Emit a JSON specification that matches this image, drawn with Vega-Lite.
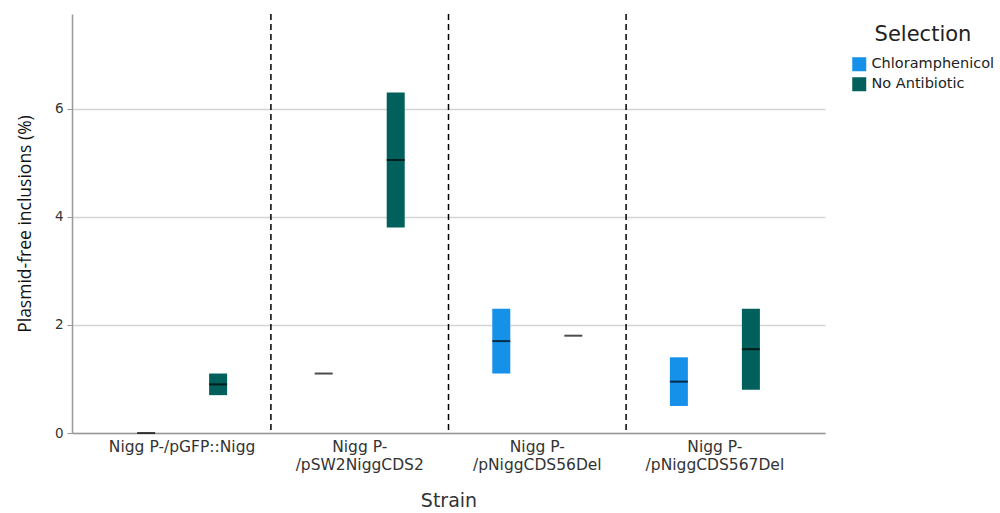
{
  "$schema": "https://vega.github.io/schema/vega-lite/v6.json",
  "width": 753,
  "height": 419,
  "autosize": {"type": "none"},
  "padding": {"left": 72, "top": 14, "right": 175, "bottom": 80},
  "background": "white",
  "config": {"view": {"stroke": null}, "font": "DejaVu Sans"},
  "data": {
    "values": [
      {"strain": "Nigg P-/pGFP::Nigg", "selection": "Chloramphenicol", "min": 0, "max": 0, "median": 0},
      {"strain": "Nigg P-/pGFP::Nigg", "selection": "No Antibiotic", "min": 0.7, "max": 1.1, "median": 0.9},
      {"strain": "Nigg P-/pSW2NiggCDS2", "selection": "Chloramphenicol", "min": 1.1, "max": 1.1, "median": 1.1},
      {"strain": "Nigg P-/pSW2NiggCDS2", "selection": "No Antibiotic", "min": 3.8, "max": 6.3, "median": 5.05},
      {"strain": "Nigg P-/pNiggCDS56Del", "selection": "Chloramphenicol", "min": 1.1, "max": 2.3, "median": 1.7},
      {"strain": "Nigg P-/pNiggCDS56Del", "selection": "No Antibiotic", "min": 1.8, "max": 1.8, "median": 1.8},
      {"strain": "Nigg P-/pNiggCDS567Del", "selection": "Chloramphenicol", "min": 0.5, "max": 1.4, "median": 0.95},
      {"strain": "Nigg P-/pNiggCDS567Del", "selection": "No Antibiotic", "min": 0.8, "max": 2.3, "median": 1.55}
    ]
  },
  "encoding": {
    "x": {
      "field": "strain",
      "type": "nominal",
      "sort": ["Nigg P-/pGFP::Nigg", "Nigg P-/pSW2NiggCDS2", "Nigg P-/pNiggCDS56Del", "Nigg P-/pNiggCDS567Del"],
      "scale": {"paddingInner": 0, "paddingOuter": 0.12},
      "title": "Strain",
      "axis": {
        "labelAngle": 0,
        "ticks": false,
        "domainColor": "#999999",
        "domainWidth": 1.5,
        "labelFont": "DejaVu Sans",
        "labelFontSize": 15.5,
        "labelColor": "#333333",
        "labelPadding": 6,
        "labelLineHeight": 18,
        "labelExpr": "datum.value == 'Nigg P-/pGFP::Nigg' ? datum.value : ['Nigg P-', substring(datum.value, 7)]",
        "titleFont": "DejaVu Sans",
        "titleFontSize": 19,
        "titleFontWeight": "normal",
        "titleColor": "#333333",
        "titlePadding": 19
      }
    }
  },
  "layer": [
    {
      "mark": {"type": "bar"},
      "encoding": {
        "xOffset": {
          "field": "selection",
          "type": "nominal",
          "scale": {"paddingInner": 0.75, "paddingOuter": 0.608}
        },
        "y": {
          "field": "min",
          "type": "quantitative",
          "scale": {"domain": [0, 7.75], "nice": false},
          "title": "Plasmid-free inclusions (%)",
          "axis": {
            "values": [0, 2, 4, 6],
            "format": "d",
            "grid": true,
            "gridColor": "#d4d4d4",
            "gridWidth": 1.5,
            "domainColor": "#999999",
            "domainWidth": 1.5,
            "tickColor": "#999999",
            "tickSize": 5,
            "labelFont": "DejaVu Sans",
            "labelFontSize": 13.5,
            "labelColor": "#333333",
            "labelPadding": 4,
            "titleFont": "Open Sans",
            "titleFontSize": 17.5,
            "titleFontWeight": "normal",
            "titleColor": "#111111",
            "titlePadding": 20
          }
        },
        "y2": {"field": "max"},
        "color": {
          "field": "selection",
          "type": "nominal",
          "scale": {"domain": ["Chloramphenicol", "No Antibiotic"], "range": ["#1591EA", "#01605C"]},
          "legend": {
            "orient": "none",
            "legendX": 780,
            "legendY": 10,
            "title": "Selection",
            "titleFont": "DejaVu Sans",
            "titleFontSize": 21,
            "titleFontWeight": "normal",
            "titleColor": "#222222",
            "titleAnchor": "middle",
            "titlePadding": 12,
            "labelFont": "DejaVu Sans",
            "labelFontSize": 14.5,
            "labelColor": "#222222",
            "labelOffset": 5,
            "symbolType": "square",
            "symbolSize": 196,
            "symbolStrokeWidth": 0,
            "rowPadding": 4
          }
        }
      }
    },
    {
      "mark": {"type": "tick", "color": "#000000", "thickness": 2, "size": 18},
      "encoding": {
        "xOffset": {"field": "selection", "type": "nominal"},
        "y": {"field": "median", "type": "quantitative"}
      }
    },
    {
      "data": {
        "values": [
          {"strain": "Nigg P-/pSW2NiggCDS2"},
          {"strain": "Nigg P-/pNiggCDS56Del"},
          {"strain": "Nigg P-/pNiggCDS567Del"}
        ]
      },
      "mark": {"type": "rule", "color": "#000000", "strokeDash": [6, 4], "strokeWidth": 1.5},
      "encoding": {
        "x": {
          "field": "strain",
          "type": "nominal",
          "bandPosition": 0,
          "sort": ["Nigg P-/pGFP::Nigg", "Nigg P-/pSW2NiggCDS2", "Nigg P-/pNiggCDS56Del", "Nigg P-/pNiggCDS567Del"]
        }
      }
    }
  ]
}
